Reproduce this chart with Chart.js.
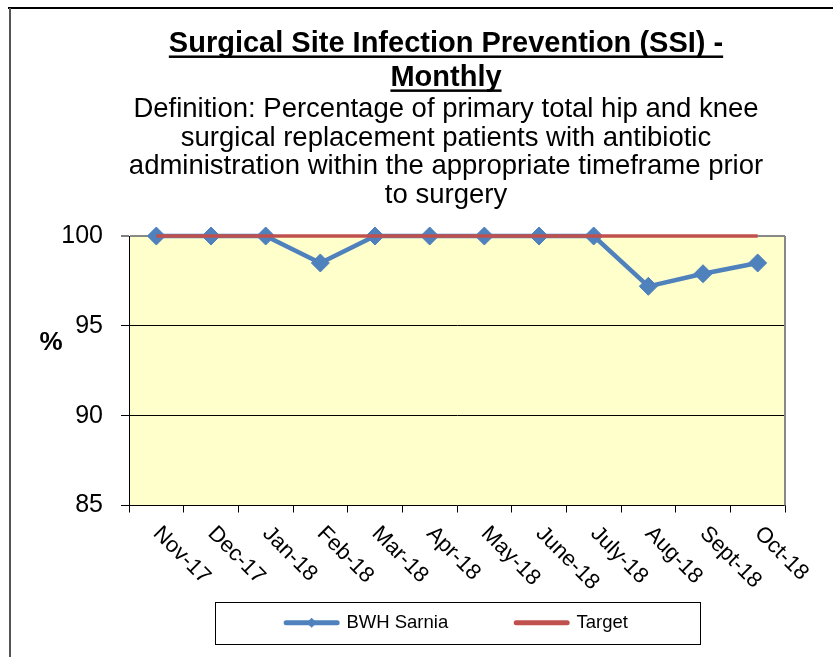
<!DOCTYPE html>
<html>
<head>
<meta charset="utf-8">
<script src="https://cdn.jsdelivr.net/npm/chart.js@4.4.1/dist/chart.umd.min.js"></script>
<style>
html, body { margin: 0; padding: 0; background: #fff; }
#wrap { width: 833px; height: 657px; position: relative; }
</style>
</head>
<body>
<div id="wrap"><canvas id="chart"></canvas></div>
<script>
var months = ['Nov-17', 'Dec-17', 'Jan-18', 'Feb-18', 'Mar-18', 'Apr-18', 'May-18', 'June-18', 'July-18', 'Aug-18', 'Sept-18', 'Oct-18'];
var bwhSarnia = [100, 100, 100, 98.5, 100, 100, 100, 100, 100, 97.2, 97.9, 98.5];
var target = [100, 100, 100, 100, 100, 100, 100, 100, 100, 100, 100, 100];
var yTicks = [85, 90, 95, 100];
var titleLines = ['Surgical Site Infection Prevention (SSI) -', 'Monthly'];
var definitionLines = [
	'Definition: Percentage of primary total hip and knee',
	'surgical replacement patients with antibiotic',
	'administration within the appropriate timeframe prior',
	'to surgery'
];

var FONT = '"Liberation Sans", Arial, sans-serif';
var TITLE_PAD = 27.5, TITLE_LH = 1.17, TITLE_SIZE = 29;

// extra drawing: plot background, rotated month labels, underline, legend frame
var decor = {
	id: 'decor',
	beforeDraw: function(chart) {
		var ctx = chart.ctx, a = chart.chartArea;
		ctx.save();
		ctx.fillStyle = '#fff';
		ctx.fillRect(0, 0, chart.width, chart.height);
		ctx.fillStyle = '#FFFFCC';
		ctx.fillRect(a.left, a.top, a.right - a.left, a.bottom - a.top);
		// outer frame
		ctx.fillStyle = '#000';
		ctx.fillRect(8, 7, chart.width, 2);
		ctx.fillStyle = '#555';
		ctx.fillRect(9, 8, 2, chart.height);
		ctx.restore();
	},
	beforeDatasetsDraw: function(chart) {
		var ctx = chart.ctx, a = chart.chartArea;
		ctx.save();
		ctx.strokeStyle = '#888';
		ctx.lineWidth = 2;
		ctx.beginPath();
		ctx.moveTo(a.right, a.top);
		ctx.lineTo(a.right, a.bottom);
		ctx.stroke();
		ctx.restore();
	},
	afterDraw: function(chart) {
		var ctx = chart.ctx;
		var xs = chart.scales.x;
		ctx.save();
		ctx.fillStyle = '#000';

		// month labels, rotated down to the right
		ctx.font = '22px ' + FONT;
		ctx.textAlign = 'left';
		ctx.textBaseline = 'alphabetic';
		months.forEach(function(m, i) {
			var x = xs.getPixelForValue(i);
			ctx.save();
			ctx.translate(x - 4, xs.top + 29);
			ctx.rotate(Math.PI / 4);
			ctx.fillText(m, 0, 0);
			ctx.restore();
		});

		// % axis label
		ctx.font = 'bold 26px ' + FONT;
		ctx.textAlign = 'center';
		ctx.textBaseline = 'middle';
		ctx.fillText('%', 51, 343);

		// underline the title
		var tb = chart.titleBlock;
		var cx = (tb.left + tb.right) / 2;
		var lh = TITLE_SIZE * TITLE_LH;
		ctx.font = 'bold ' + TITLE_SIZE + 'px ' + FONT;
		titleLines.forEach(function(t, i) {
			var w = ctx.measureText(t).width;
			var y = tb.top + TITLE_PAD + lh * (i + 0.5) + 11;
			ctx.fillRect(cx - w / 2, y, w, 2.5);
		});

		// legend frame and diamond marker
		var hb = chart.legend.legendHitBoxes;
		if (hb && hb.length > 1) {
			var cy = hb[0].top + hb[0].height / 2;
			var x0 = hb[0].left - 71;
			var x1 = hb[1].left + hb[1].width + 72;
			ctx.strokeStyle = '#000';
			ctx.lineWidth = 1;
			ctx.strokeRect(Math.round(x0) + 0.5, Math.round(cy - 21) + 0.5, Math.round(x1 - x0), 42);
			var dx = hb[0].left + 25.5;
			ctx.fillStyle = '#4F81BD';
			ctx.beginPath();
			ctx.moveTo(dx - 5, cy);
			ctx.lineTo(dx, cy - 5);
			ctx.lineTo(dx + 5, cy);
			ctx.lineTo(dx, cy + 5);
			ctx.closePath();
			ctx.fill();
		}
		ctx.restore();
	}
};

var ctx = document.getElementById('chart').getContext('2d');

var chart = new Chart(ctx, {
	type: 'line',
	data: {
		labels: months,
		datasets: [{
			label: 'BWH Sarnia',
			data: bwhSarnia,
			borderColor: '#4F81BD',
			backgroundColor: '#4F81BD',
			borderWidth: 4.5,
			pointStyle: 'rectRot',
			pointRadius: 9,
			pointBorderWidth: 1,
			pointBackgroundColor: '#4F81BD',
			pointBorderColor: '#4F81BD',
			tension: 0,
			clip: false,
			order: 2
		}, {
			label: 'Target',
			data: target,
			borderColor: '#C0504D',
			backgroundColor: '#C0504D',
			borderWidth: 3.5,
			pointRadius: 0,
			tension: 0,
			clip: false,
			order: 1
		}]
	},
	options: {
		responsive: true,
		maintainAspectRatio: false,
		devicePixelRatio: 1,
		animation: false,
		layout: {
			padding: { top: 0, left: 59, right: 0, bottom: 15 }
		},
		plugins: {
			title: {
				display: true,
				text: titleLines,
				color: '#000',
				font: { family: FONT, size: TITLE_SIZE, weight: 'bold', lineHeight: TITLE_LH },
				padding: { top: TITLE_PAD, bottom: 0 }
			},
			subtitle: {
				display: true,
				text: definitionLines,
				color: '#000',
				font: { family: FONT, size: 27.5, weight: 'normal', lineHeight: 1.036 },
				padding: { top: 0, bottom: 26.7 }
			},
			legend: {
				display: true,
				position: 'bottom',
				fullSize: false,
				labels: {
					color: '#000',
					font: { family: FONT, size: 18.5 },
					usePointStyle: true,
					pointStyleWidth: 51,
					padding: 68,
					generateLabels: function(chart) {
						return chart.data.datasets.map(function(ds, i) {
							return {
								text: ds.label,
								fillStyle: ds.borderColor,
								strokeStyle: ds.borderColor,
								lineWidth: 5,
								lineCap: 'round',
								pointStyle: 'line',
								hidden: false,
								datasetIndex: i
							};
						});
					}
				}
			},
			tooltip: { enabled: false }
		},
		scales: {
			x: {
				offset: true,
				afterFit: function(scale) { scale.height = 40; },
				ticks: { display: false },
				grid: {
					display: true,
					offset: true,
					drawOnChartArea: false,
					drawTicks: true,
					tickLength: 7,
					tickColor: '#000'
				},
				border: { display: true, color: '#000', width: 1 }
			},
			y: {
				min: yTicks[0],
				max: yTicks[yTicks.length - 1],
				afterFit: function(scale) { scale.width = 70; },
				ticks: {
					stepSize: yTicks[1] - yTicks[0],
					autoSkip: false,
					color: '#000',
					padding: 18,
					font: { family: FONT, size: 25 }
				},
				grid: {
					color: function(c) {
						if (!c.tick) return '#000';
						if (c.tick.value === 100) return '#888';
						if (c.tick.value === 85) return 'rgba(0,0,0,0)';
						return '#000';
					},
					lineWidth: function(c) {
						return c.tick && c.tick.value === 100 ? 2 : 1;
					},
					tickLength: 8,
					tickColor: '#000',
					tickWidth: 1
				},
				border: { display: true, color: '#000', width: 1 }
			},
			// empty right-hand margin so the plot ends where the reference's does
			yRight: {
				position: 'right',
				display: true,
				afterFit: function(scale) { scale.width = 48; },
				ticks: { display: false },
				grid: { display: false },
				border: { display: false }
			}
		}
	},
	plugins: [decor]
});
</script>
</body>
</html>
